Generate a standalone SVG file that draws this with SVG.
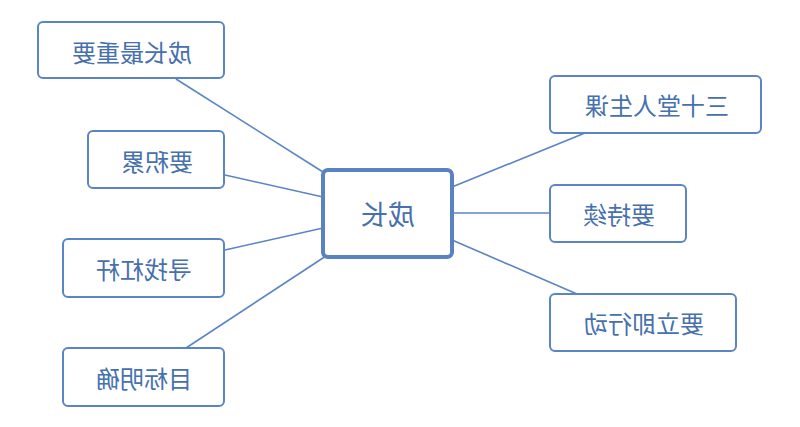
<svg xmlns="http://www.w3.org/2000/svg" width="800" height="427" viewBox="0 0 800 427">
<style>
.box{fill:#fff;stroke:#5b84c4;stroke-width:2}
.main{fill:#fff;stroke:#5882c2;stroke-width:4}
.t{font-family:"Noto Sans CJK SC","Noto Sans",sans-serif;font-size:24px;fill:#4670ae;text-anchor:middle;dominant-baseline:central}
.tm{font-size:27px}
.c{stroke:#5b84c4;stroke-width:1.6;fill:none}
</style>
<rect width="800" height="427" fill="#fff"/>
<g id="connectors">
<line class="c" x1="176" y1="79" x2="323" y2="172"/>
<line class="c" x1="225" y1="175" x2="323" y2="197"/>
<line class="c" x1="225" y1="250" x2="323" y2="228"/>
<line class="c" x1="186" y1="348" x2="326" y2="256"/>
<line class="c" x1="452" y1="187" x2="585" y2="133"/>
<line class="c" x1="452" y1="213" x2="550" y2="213"/>
<line class="c" x1="452" y1="240" x2="577" y2="294"/>
</g>
<g id="n-center">
<rect class="main" x="323" y="170" width="129" height="87" rx="5"/>
<text class="t tm" transform="translate(388,213) scale(-1,1)">成长</text>
</g>
<g id="n1">
<rect class="box" x="38" y="22" width="186" height="56" rx="5"/>
<text class="t" transform="translate(132,51) scale(-1,1)">成长最重要</text>
</g>
<g id="n2">
<rect class="box" x="88" y="131" width="136" height="57" rx="5"/>
<text class="t" transform="translate(157,160) scale(-1,1)">要积累</text>
</g>
<g id="n3">
<rect class="box" x="63" y="239" width="161" height="58" rx="5"/>
<text class="t" transform="translate(144,268) scale(-1,1)">寻找杠杆</text>
</g>
<g id="n4">
<rect class="box" x="63" y="348" width="161" height="58" rx="5"/>
<text class="t" transform="translate(144,377) scale(-1,1)">目标明确</text>
</g>
<g id="n5">
<rect class="box" x="550" y="76" width="211" height="57" rx="5"/>
<text class="t" transform="translate(657,104) scale(-1,1)">三十堂人生课</text>
</g>
<g id="n6">
<rect class="box" x="550" y="185" width="136" height="57" rx="5"/>
<text class="t" transform="translate(619,213) scale(-1,1)">要持续</text>
</g>
<g id="n7">
<rect class="box" x="550" y="294" width="186" height="57" rx="5"/>
<text class="t" transform="translate(644,322) scale(-1,1)">要立即行动</text>
</g>
</svg>
